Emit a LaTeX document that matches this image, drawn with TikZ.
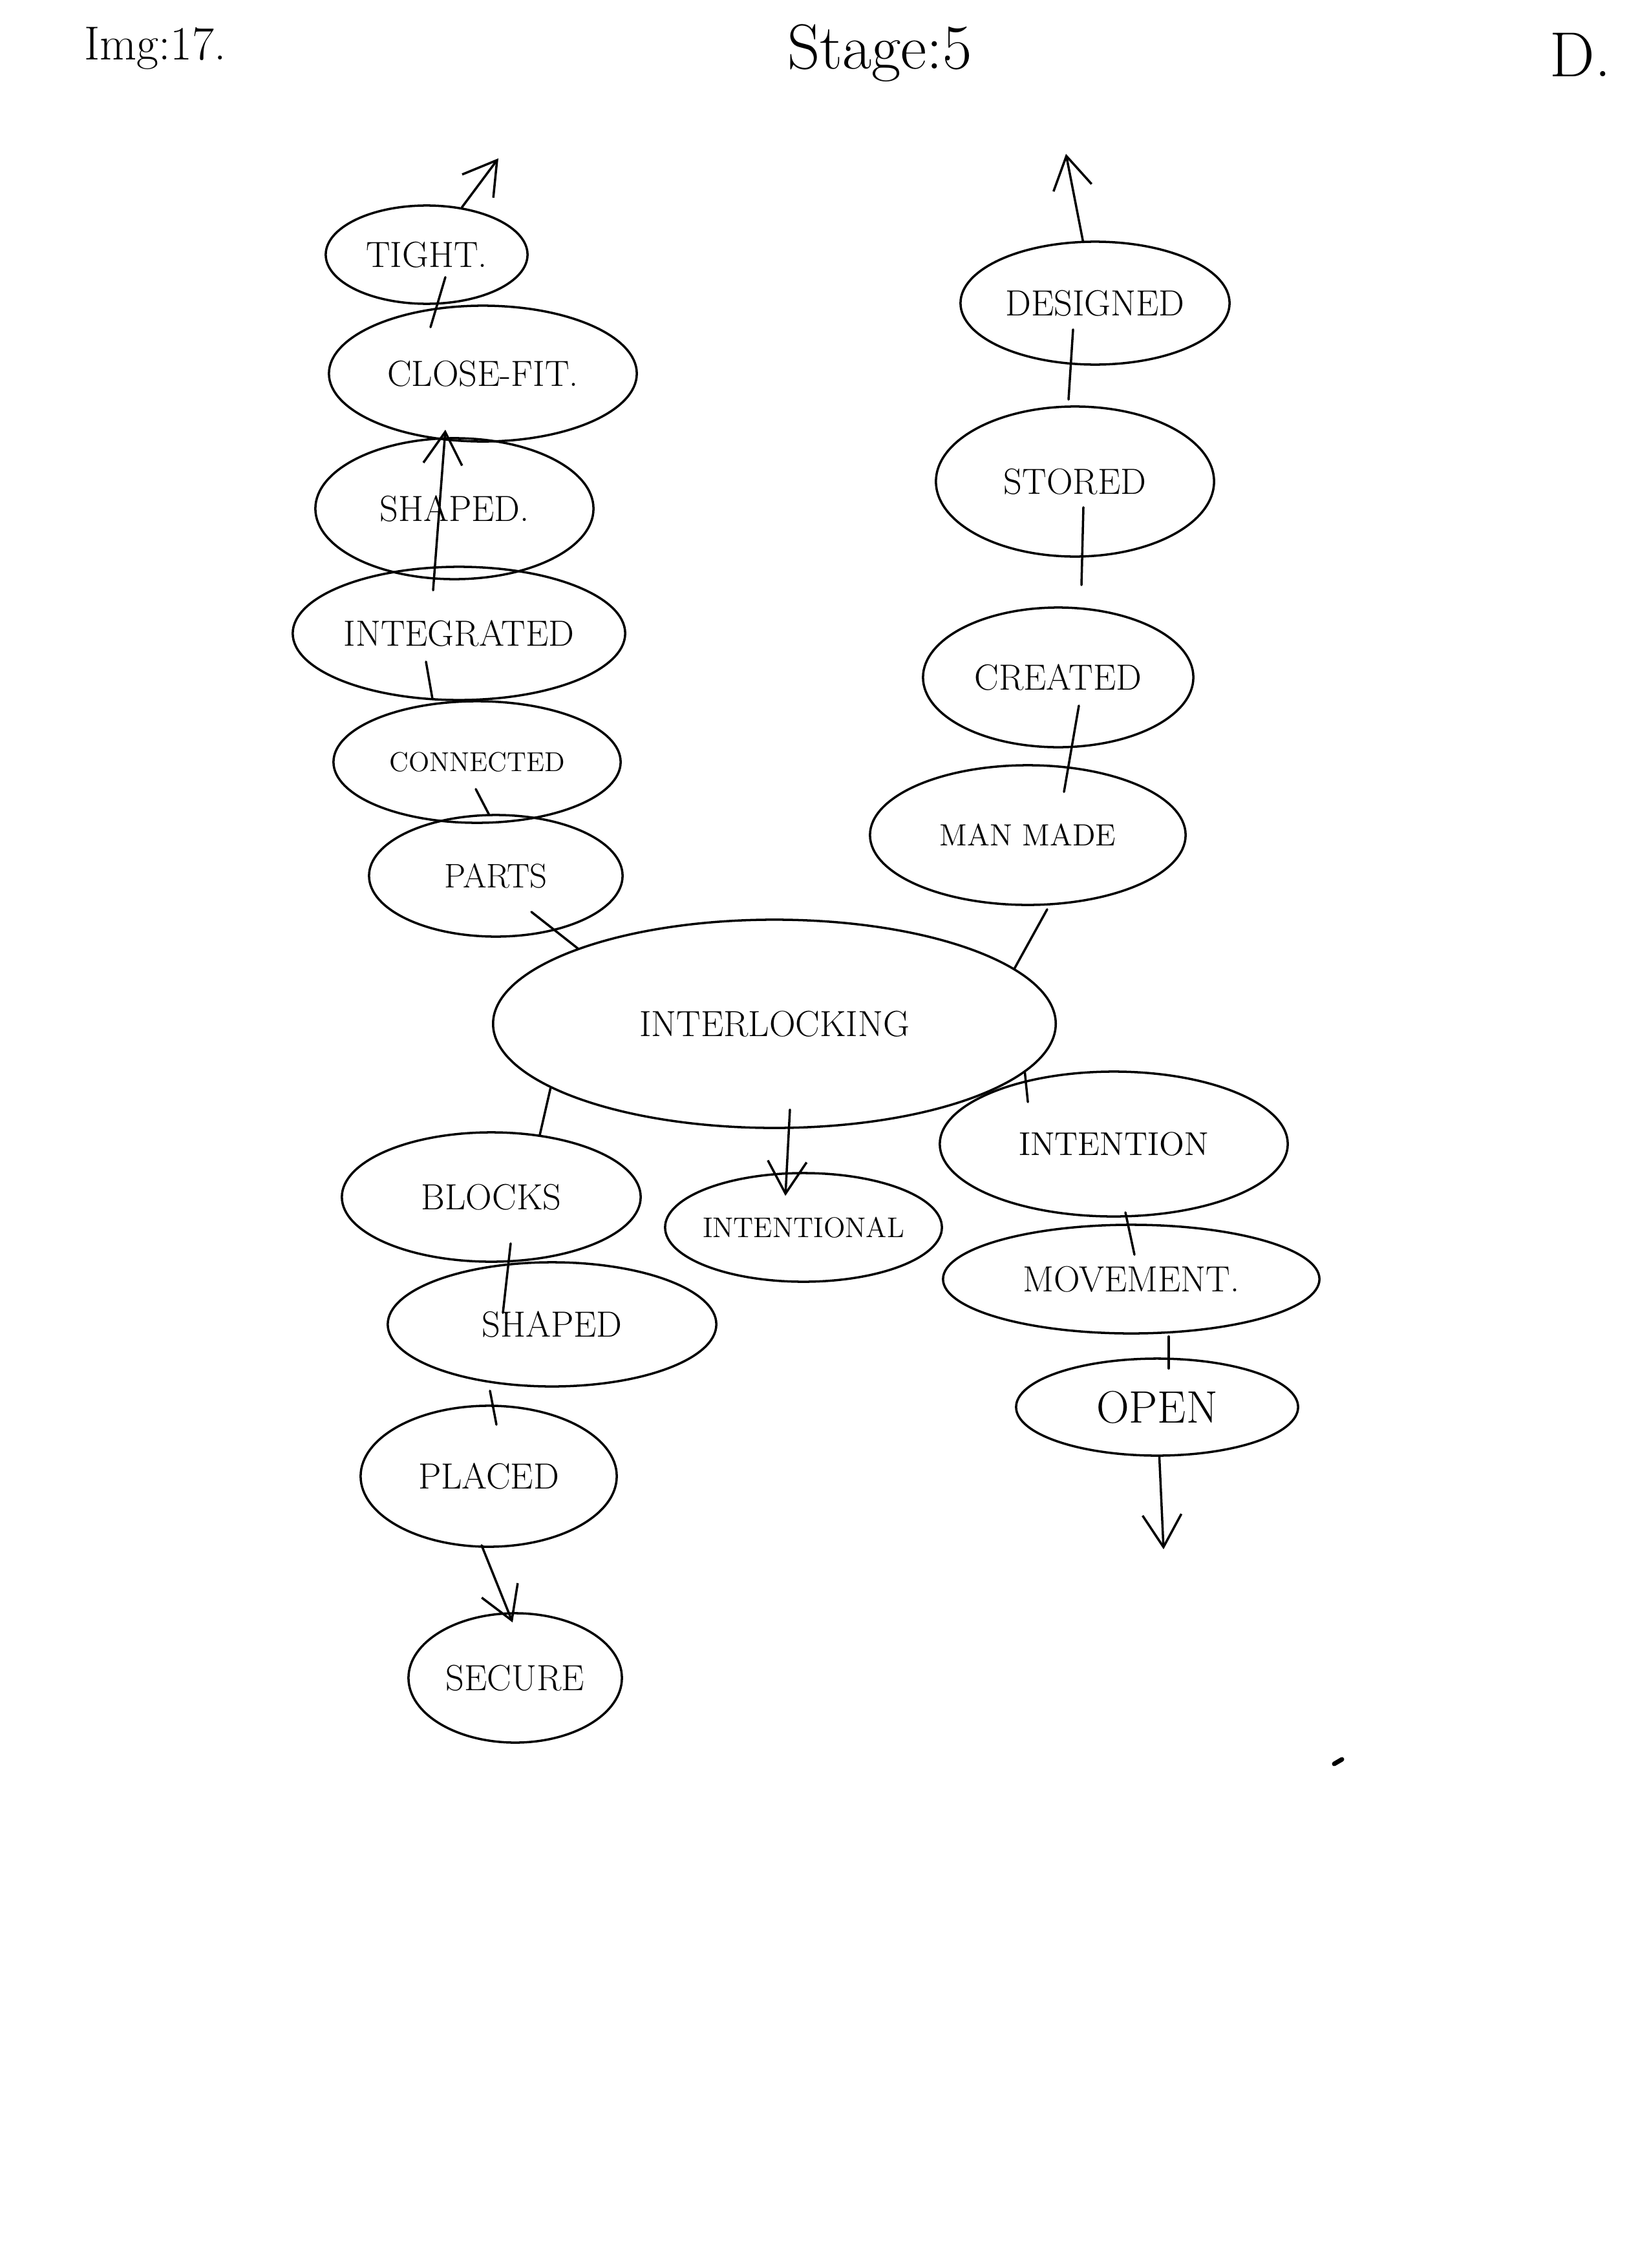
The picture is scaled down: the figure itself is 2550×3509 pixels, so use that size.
\documentclass[tikz,border=0pt]{standalone}
\usetikzlibrary{shapes.geometric,arrows.meta,calc}
\tikzset{
  bubble/.style={draw, ellipse, line width=1pt, inner sep=0pt, inner xsep=-4mm, font=\fontsize{16}{19}\selectfont},
  link/.style={line width=1pt, line cap=round},
  pointer/.style={link, -{Straight Barb[length=5mm,width=6mm]}},
  heading/.style={font=\fontsize{28}{30}\selectfont}
}
\begin{document}
\begin{tikzpicture}[x=0.01cm, y=-0.01cm]
	\useasboundingbox (0,0) rectangle (2550,3509);

	% page heading
	\node[font=\fontsize{21}{24}\selectfont] (imgno) at (240,75) {Img:17.};
	\node[heading] (stage) at (1361,82) {Stage:5};
	\node[heading] (initial) at (2445,85) {D.};

	% left column
	\node[bubble, minimum width=3.12cm, minimum height=1.52cm] (tight) at (660,394) {TIGHT.};
	\node[bubble, minimum width=4.76cm, minimum height=2.10cm] (closefit) at (747,578) {CLOSE-FIT.};
	\node[bubble, minimum width=4.30cm, minimum height=2.18cm] (shapeda) at (703,787) {SHAPED.};
	\node[bubble, minimum width=5.14cm, minimum height=2.06cm] (integrated) at (710,980) {INTEGRATED};
	\node[bubble, minimum width=4.44cm, minimum height=1.88cm, font=\fontsize{12}{14}\selectfont] (connected) at (738,1179) {CONNECTED};
	\node[bubble, minimum width=3.92cm, minimum height=1.88cm, font=\fontsize{15}{17}\selectfont] (parts) at (767,1355) {PARTS};
	\coordinate (tightup) at (771,245);

	% right column
	\node[bubble, minimum width=4.16cm, minimum height=1.90cm] (designed) at (1694,469) {DESIGNED};
	\node[bubble, minimum width=4.30cm, minimum height=2.32cm] (stored) at (1663,745) {STORED};
	\node[bubble, minimum width=4.18cm, minimum height=2.16cm] (created) at (1637,1048) {CREATED};
	\node[bubble, minimum width=4.88cm, minimum height=2.16cm, font=\fontsize{13.5}{16}\selectfont] (manmade) at (1590,1292) {MAN MADE};
	\coordinate (designedup) at (1649,238);

	% centre
	\node[bubble, minimum width=8.70cm, minimum height=3.22cm] (interlocking) at (1198,1584) {INTERLOCKING};

	% lower part
	\node[bubble, minimum width=4.62cm, minimum height=2.00cm] (blocks) at (760,1852) {BLOCKS};
	\node[bubble, minimum width=5.08cm, minimum height=1.92cm] (shapedb) at (854,2049) {SHAPED};
	\node[bubble, minimum width=3.96cm, minimum height=2.18cm] (placed) at (756,2284) {PLACED};
	\node[bubble, minimum width=3.30cm, minimum height=2.00cm] (secure) at (797,2596) {SECURE};
	\node[bubble, minimum width=4.28cm, minimum height=1.68cm, font=\fontsize{12.5}{15}\selectfont] (intentional) at (1243,1899) {INTENTIONAL};
	\node[bubble, minimum width=5.38cm, minimum height=2.24cm, font=\fontsize{14.5}{17}\selectfont] (intention) at (1723,1770) {INTENTION};
	\node[bubble, minimum width=5.82cm, minimum height=1.68cm] (movement) at (1750,1979) {MOVEMENT.};
	\node[bubble, minimum width=4.36cm, minimum height=1.50cm, font=\fontsize{20}{23}\selectfont] (open) at (1790,2177) {OPEN};
	\coordinate (openend) at (1800,2397);

	% left column links
	\draw[pointer] (tight) -- (tightup);
	\draw[link] ($(tight.south)+(29,-43)$) -- ($(closefit.north)+(-81,35)$);
	\draw[pointer] ($(integrated.north)+(-40,38)$) -- ($(closefit.south)+(-58,-20)$);
	\draw[link] ($(integrated.south)+(-51,-61)$) -- ($(connected.north)+(-69,-2)$);
	\draw[link] ($(connected.south)+(-2,-54)$) -- ($(parts.north)+(-10,2)$);
	\draw[link] ($(parts.south)+(55,-40)$) -- (interlocking.159);

	% right column links
	\draw[pointer] (designed) -- (designedup);
	\draw[link] ($(designed.south)+(-34,-56)$) -- ($(stored.north)+(-10,-9)$);
	\draw[link] ($(stored.south)+(13,-78)$) -- ($(created.north)+(36,-33)$);
	\draw[link] ($(created.south)+(32,-66)$) -- ($(manmade.north)+(56,43)$);
	\draw[link] ($(manmade.south)+(30,5)$) -- (interlocking.13);

	% lower links
	\draw[link] (interlocking.196) -- ($(blocks.north)+(75,6)$);
	\draw[link] ($(blocks.south)+(30,-30)$) -- ($(shapedb.north)+(-76,80)$);
	\draw[link] ($(shapedb.south)+(-96,5)$) -- ($(placed.north)+(12,31)$);
	\draw[pointer] ($(placed.south)+(-11,-4)$) -- ($(secure.north)+(-4,16)$);
	\draw[pointer] ($(interlocking.south)+(24,-30)$) -- ($(intentional.north)+(-28,37)$);
	\draw[link] (interlocking.-11) -- ($(intention.west)+(138,-65)$);
	\draw[link] ($(intention.south)+(18,-8)$) -- ($(movement.north)+(5,48)$);
	\draw[link] ($(movement.south)+(58,3)$) -- ($(open.north)+(18,17)$);
	\draw[pointer] (open) -- (openend);

	% stray pen mark
	\draw[line width=2pt, line cap=round] (2064,2729) -- (2076,2722);
\end{tikzpicture}
\end{document}
